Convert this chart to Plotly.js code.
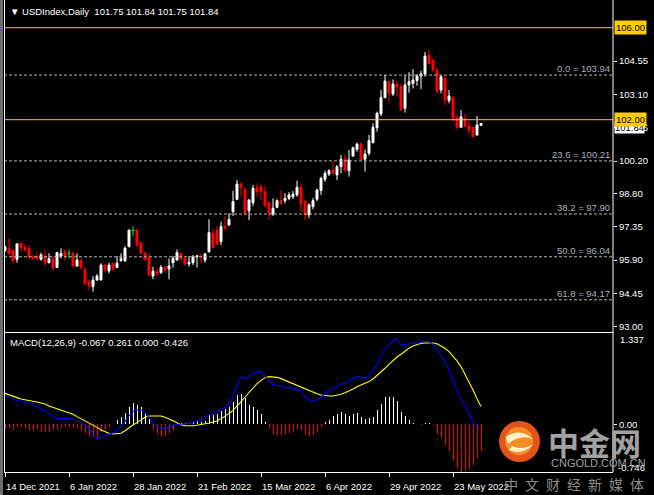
<!DOCTYPE html>
<html><head><meta charset="utf-8">
<script src="https://cdn.plot.ly/plotly-3.0.1.min.js"></script>
<style>html,body{margin:0;padding:0;background:#000;overflow:hidden}#chart{width:654px;height:495px}</style>
</head><body><div id="chart"></div>
<script>
// ---------- data ----------
const tickBars = [0, 16, 32, 48, 64, 80, 96, 112];
const tickLabels = ['14 Dec 2021','6 Jan 2022','28 Jan 2022','21 Feb 2022','15 Mar 2022','6 Apr 2022','29 Apr 2022','23 May 2022'];

const openP = [96.31,96.41,96.34,95.93,96.63,96.45,96.41,96.02,96.05,95.93,96.07,95.78,95.96,95.57,96.07,96.29,96.19,96.19,95.64,95.87,
95.49,94.96,94.74,95.03,95.03,95.68,95.42,95.76,95.57,95.87,95.87,96.48,97.18,97.20,96.65,96.19,96.02,95.20,95.39,95.35,
95.61,95.51,95.78,95.90,96.19,95.97,95.73,95.78,96.04,96.07,95.90,96.26,97.06,97.20,96.70,97.35,97.42,98.00,98.54,99.20,
98.97,98.04,98.39,99.06,99.09,98.86,98.41,97.90,98.19,98.48,98.48,98.58,98.65,98.73,99.06,98.44,97.86,98.22,98.54,98.92,
99.41,99.64,99.81,99.60,99.96,100.28,99.78,100.42,100.71,100.94,100.28,100.54,101.00,101.65,102.25,102.96,103.65,103.12,103.55,103.44,
102.49,103.51,103.58,103.70,103.90,103.99,104.81,104.59,104.16,103.29,103.80,102.83,102.97,102.10,101.67,102.06,101.73,101.67,101.33,101.75];
const highP = [96.51,96.84,96.36,96.63,96.65,96.60,96.55,96.12,96.19,96.22,96.34,96.19,96.07,96.26,96.41,96.34,96.36,96.26,96.19,95.97,
95.61,95.03,95.20,95.29,95.76,95.71,95.78,95.78,96.07,96.19,96.51,97.23,97.38,97.23,96.70,96.26,96.19,95.61,95.58,95.68,
95.61,95.97,96.07,96.36,96.22,96.02,96.07,96.12,96.12,96.19,96.22,97.67,97.23,97.38,97.57,97.81,97.93,98.91,99.38,99.29,
99.02,98.54,99.16,99.23,99.20,99.09,98.41,98.58,98.54,98.94,98.80,98.85,98.90,99.35,99.23,98.50,98.36,98.60,99.00,99.52,
99.78,99.85,100.18,100.03,100.47,100.47,100.68,100.83,101.00,101.04,100.71,101.34,101.84,102.35,103.29,103.94,103.70,103.75,103.67,103.58,
103.94,104.06,104.20,103.99,104.12,104.94,105.03,104.67,104.23,103.94,103.90,103.29,103.00,102.25,102.42,102.25,101.96,101.67,102.16,101.84];
const lowP = [96.26,96.12,95.76,95.78,96.26,96.26,95.93,95.90,95.87,95.87,95.64,95.76,95.52,95.55,95.97,95.87,95.97,95.64,95.61,95.49,
94.81,94.57,94.52,94.99,95.03,95.39,95.32,95.44,95.57,95.83,95.81,96.45,96.94,96.45,96.16,95.87,95.20,95.06,95.20,95.29,
95.35,95.06,95.57,95.87,95.87,95.64,95.61,95.68,95.57,95.76,95.78,96.22,96.41,96.55,96.55,97.20,97.38,97.81,98.51,98.65,
97.86,97.64,98.25,98.65,98.51,98.22,97.64,97.81,98.15,98.29,98.36,98.50,98.55,98.65,98.00,97.64,97.71,98.10,98.45,98.73,
99.30,99.55,99.64,99.38,99.67,99.74,99.52,100.39,100.61,100.25,99.74,100.44,100.97,101.48,102.16,102.93,102.74,103.03,103.00,102.42,
102.31,103.17,103.36,103.48,103.33,103.87,104.42,104.09,103.15,103.15,102.64,102.71,101.96,101.58,101.67,101.70,101.38,101.23,101.33,101.75];
const closeP = [96.48,96.19,95.87,96.60,96.44,96.34,96.02,95.96,95.97,96.12,95.76,95.96,95.52,96.22,96.19,96.07,96.19,95.64,95.90,95.57,
94.89,94.77,95.03,95.20,95.68,95.47,95.68,95.49,95.76,95.96,96.41,97.20,97.18,96.55,96.19,95.93,95.25,95.42,95.29,95.58,
95.47,95.64,95.97,96.22,95.93,95.73,95.80,96.02,96.07,96.02,96.16,97.09,96.44,96.60,97.35,97.29,97.67,98.44,99.20,99.06,
97.93,98.51,99.02,98.87,98.87,98.25,97.93,98.15,98.48,98.36,98.58,98.73,98.76,99.06,98.36,97.86,98.29,98.48,98.94,99.45,
99.67,99.78,99.67,99.96,100.28,99.81,100.25,100.78,100.94,100.25,100.51,101.09,101.67,102.28,102.97,103.68,103.15,103.55,103.41,102.42,
103.51,103.65,103.72,103.90,103.99,104.77,104.42,104.16,103.22,103.87,102.86,103.03,101.99,101.67,102.13,101.70,101.55,101.26,101.77,101.84];

const macdMain = [0.459,0.433,0.391,0.370,0.365,0.355,0.339,0.302,0.276,0.250,0.214,0.172,0.120,0.093,0.093,0.093,0.093,0.078,0.057,0.026,
-0.011,-0.063,-0.141,-0.220,-0.204,-0.183,-0.152,-0.131,-0.089,-0.037,0.041,0.130,0.198,0.224,0.224,0.182,0.109,0.026,-0.027,-0.053,
-0.063,-0.037,-0.011,0.000,0.000,0.005,0.015,0.030,0.045,0.068,0.120,0.146,0.157,0.188,0.224,0.277,0.329,0.433,0.616,0.747,
0.721,0.731,0.799,0.825,0.825,0.763,0.679,0.627,0.606,0.601,0.590,0.575,0.564,0.548,0.512,0.433,0.381,0.355,0.381,0.418,
0.486,0.527,0.564,0.590,0.627,0.642,0.669,0.721,0.747,0.736,0.721,0.763,0.851,0.940,1.060,1.181,1.254,1.320,1.337,1.233,
1.254,1.264,1.269,1.269,1.285,1.306,1.296,1.254,1.165,1.087,0.972,0.851,0.695,0.522,0.381,0.303,0.172,0.042,-0.037,-0.067];
const macdSignal = [0.485,0.459,0.433,0.418,0.397,0.381,0.370,0.360,0.350,0.334,0.318,0.287,0.266,0.245,0.224,0.203,0.182,0.156,0.120,0.089,
0.057,0.026,-0.011,-0.048,-0.089,-0.115,-0.141,-0.152,-0.152,-0.141,-0.100,-0.053,-0.011,0.026,0.067,0.109,0.130,0.130,0.130,0.130,
0.109,0.089,0.057,0.026,-0.005,-0.021,-0.027,-0.022,-0.015,-0.005,0.005,0.021,0.037,0.052,0.089,0.125,0.167,0.219,0.282,0.355,
0.428,0.501,0.575,0.637,0.689,0.731,0.747,0.747,0.736,0.716,0.689,0.663,0.637,0.611,0.585,0.559,0.533,0.507,0.480,0.460,
0.449,0.444,0.444,0.454,0.470,0.496,0.522,0.554,0.590,0.616,0.637,0.669,0.710,0.763,0.815,0.878,0.940,1.003,1.055,1.097,
1.149,1.191,1.228,1.254,1.269,1.275,1.280,1.275,1.264,1.233,1.191,1.139,1.071,0.993,0.904,0.784,0.669,0.538,0.400,0.280];
const macdHist = [-0.089,-0.063,-0.089,-0.048,-0.037,-0.053,-0.089,-0.100,-0.079,-0.115,-0.115,-0.115,-0.089,-0.089,-0.063,-0.037,-0.037,-0.053,-0.079,-0.100,
-0.141,-0.183,-0.204,-0.220,-0.115,-0.089,-0.037,0.010,0.067,0.109,0.182,0.276,0.339,0.302,0.266,0.182,0.078,-0.089,-0.152,-0.193,
-0.183,-0.141,-0.089,0.026,0.026,0.015,0.026,0.031,0.052,0.042,0.057,0.146,0.146,0.157,0.209,0.240,0.277,0.355,0.460,0.470,
0.418,0.303,0.277,0.224,0.157,0.042,-0.063,-0.157,-0.167,-0.167,-0.157,-0.141,-0.115,-0.073,-0.089,-0.167,-0.178,-0.167,-0.115,-0.037,
0.031,0.068,0.136,0.157,0.188,0.157,0.136,0.157,0.172,0.120,0.084,0.094,0.120,0.224,0.313,0.433,0.433,0.433,0.366,0.198,
0.136,0.068,0.016,0.000,-0.010,0.016,0.016,-0.010,-0.157,-0.219,-0.324,-0.418,-0.575,-0.680,-0.746,-0.730,-0.700,-0.640,-0.533,-0.426];

const hLevels = [106.00, 102.00];
const fibLevels = [103.94, 100.21, 97.90, 96.04, 94.17];
const fibNames = ['0.0', '23.6', '38.2', '50.0', '61.8'];
const priceTicks = [93.00, 94.45, 95.90, 97.35, 98.80, 100.20, 101.65, 103.10, 104.55];
const currentPrice = 101.84;
const macdMax = 1.337, macdMin = -0.746;
const headerText = '\u25BC\u00A0USDIndex,Daily\u00A0\u00A0101.75 101.84 101.75 101.84';
const macdText = 'MACD(12,26,9) -0.067 0.261 0.000 -0.426';

// ---------- geometry helpers ----------
const W = 654, H = 495, PL = 4, PR = 613, PT = 0, PB = 472;
const fx = px => (px - PL) / (PR - PL);
const fy = py => (PB - py) / (PB - PT);
const FONT = '"Liberation Sans", Arial, sans-serif';
const FS = 9.5;

const bars = openP.map((_, i) => i);
const isDoji = bars.map(i => openP[i] === closeP[i]);
const pick = (arr) => arr.map((v, i) => isDoji[i] ? null : v);

// doji drawn as green crosses
const djx = [], djy = [];
bars.forEach(i => {
  if (isDoji[i]) {
    djx.push(i, i, null, i - 0.4, i + 0.4, null);
    djy.push(lowP[i], highP[i], null, openP[i], openP[i], null);
  }
});

const traces = [
  {
    type: 'candlestick', x: bars, open: pick(openP), high: pick(highP), low: pick(lowP), close: pick(closeP),
    xaxis: 'x', yaxis: 'y', hoverinfo: 'skip', whiskerwidth: 0,
    increasing: {line: {color: '#ffffff', width: 1}, fillcolor: '#ffffff'},
    decreasing: {line: {color: '#ff0000', width: 1}, fillcolor: '#ff0000'}
  },
  {
    type: 'scatter', mode: 'lines', x: djx, y: djy, xaxis: 'x', yaxis: 'y',
    line: {color: '#00ff00', width: 1}, hoverinfo: 'skip', connectgaps: false
  },
  {
    type: 'bar', x: bars, y: macdHist, xaxis: 'x', yaxis: 'y2', width: 0.25,
    marker: {color: macdHist.map(v => v >= 0 ? '#ffffff' : '#ff0000'), line: {width: 0}}, hoverinfo: 'skip'
  },
  {
    type: 'scatter', mode: 'lines', x: bars, y: macdSignal, xaxis: 'x', yaxis: 'y2',
    line: {color: '#ffff00', width: 1.1}, hoverinfo: 'skip'
  },
  {
    type: 'scatter', mode: 'lines', x: bars, y: macdMain, xaxis: 'x', yaxis: 'y2',
    line: {color: '#0000ff', width: 1.1}, hoverinfo: 'skip'
  }
];

// main price range from pixel geometry: 106 at y=27.7, 23 px per unit
const pxPerUnit = 23.0, y106 = 27.7;
const mainTop = 106 + (y106 - PT) / pxPerUnit;
const mainBot = 106 - (332 - y106) / pxPerUnit;
const mPx = 63.8, mZero = 424.3;
const macdTop = (mZero - 333) / mPx;
const macdBot = (mZero - PB) / mPx;

const shapes = [];
hLevels.forEach(v => shapes.push({type: 'line', xref: 'paper', yref: 'y', x0: 0, x1: 1, y0: v, y1: v,
  line: {color: '#ffcc00', width: 1}}));
fibLevels.forEach(v => shapes.push({type: 'line', xref: 'paper', yref: 'y', x0: 0, x1: 1, y0: v, y1: v,
  line: {color: '#b4b4b4', width: 1, dash: '3px,2px'}}));
// frame
shapes.push({type: 'rect', xref: 'paper', yref: 'paper', x0: fx(0), x1: fx(3), y0: fy(H), y1: fy(0), line: {width: 0}, fillcolor: '#6e6e6e', layer: 'above'});
shapes.push({type: 'line', xref: 'paper', yref: 'paper', x0: fx(4.5), x1: fx(4.5), y0: fy(PB), y1: fy(0), line: {color: '#ffffff', width: 1}});
shapes.push({type: 'line', xref: 'paper', yref: 'paper', x0: fx(PR), x1: fx(PR), y0: fy(PB), y1: fy(0), line: {color: '#ffffff', width: 1}});
shapes.push({type: 'line', xref: 'paper', yref: 'paper', x0: fx(4), x1: fx(PR), y0: fy(332.5), y1: fy(332.5), line: {color: '#ffffff', width: 1}});
// watermark logo
shapes.push({type: 'circle', xref: 'paper', yref: 'paper', x0: fx(499), x1: fx(540), y0: fy(462), y1: fy(421),
  line: {width: 0}, fillcolor: '#e4531a', layer: 'above'});
shapes.push({type: 'circle', xref: 'paper', yref: 'paper', x0: fx(505), x1: fx(533), y0: fy(455), y1: fy(427),
  line: {width: 0}, fillcolor: '#f5962a', layer: 'above', opacity: 0.9});
shapes.push({type: 'path', xref: 'paper', yref: 'paper', layer: 'above',
  path: `M ${fx(506)},${fy(437)} Q ${fx(520)},${fy(427)} ${fx(533)},${fy(439)} Q ${fx(520)},${fy(434)} ${fx(508)},${fy(444)} Z`,
  line: {width: 0}, fillcolor: '#fff1c8'});
shapes.push({type: 'path', xref: 'paper', yref: 'paper', layer: 'above',
  path: `M ${fx(509)},${fy(450)} Q ${fx(522)},${fy(456)} ${fx(534)},${fy(444)} Q ${fx(522)},${fy(451)} ${fx(512)},${fy(446)} Z`,
  line: {width: 0}, fillcolor: '#fff1c8'});

const ann = [];
const txt = (x, y, text, opts = {}) => Object.assign({xref: 'paper', yref: 'paper', x: fx(x), y: fy(y), text: text,
  showarrow: false, xanchor: 'left', yanchor: 'middle', font: {family: FONT, size: FS, color: '#ffffff'}}, opts);

ann.push(txt(8, 11, headerText));
ann.push(txt(8, 342, macdText));
fibLevels.forEach((v, k) => ann.push({xref: 'paper', yref: 'y', x: fx(612), y: v, xanchor: 'right', yanchor: 'bottom',
  text: fibNames[k] + ' = ' + v.toFixed(2), showarrow: false, yshift: -1,
  font: {family: FONT, size: FS, color: '#a9b3bf'}}));
// current price box (partly under the 102 label, as in the reference)
ann.push({xref: 'paper', yref: 'y', x: 1, xshift: 1, y: currentPrice, yshift: -4, xanchor: 'left', yanchor: 'middle', text: currentPrice.toFixed(2),
  showarrow: false, bgcolor: '#ffffff', borderpad: 0, font: {family: FONT, size: FS, color: '#000000'}});
hLevels.forEach(v => ann.push({xref: 'paper', yref: 'y', x: 1, xshift: 1, y: v, xanchor: 'left', yanchor: 'middle',
  text: v.toFixed(2), showarrow: false, bgcolor: '#ffcc00', borderpad: 1, font: {family: FONT, size: FS, color: '#000000'}}));
ann.push({xref: 'paper', yref: 'y2', x: 1, xshift: 5, y: macdMax, xanchor: 'left', yanchor: 'middle', text: macdMax.toFixed(3),
  showarrow: false, font: {family: FONT, size: FS, color: '#ffffff'}});
ann.push(txt(616, 467, macdMin.toFixed(3)));
// watermark
ann.push(txt(546, 441, '<b>中金网</b>', {font: {family: '"Noto Sans CJK SC", sans-serif', size: 31, color: '#a2a2a2'}}));
ann.push(txt(549, 463, 'CNGOLD.COM.CN', {font: {family: FONT, size: 11, color: '#a2a2a2'}}));
ann.push(txt(502, 484, '中\u2002文\u2002财\u2002经\u2002新\u2002媒\u2002体', {font: {family: '"Noto Sans CJK SC", sans-serif', size: 14, color: '#8c8c8c'}}));

const layout = {
  width: W, height: H, paper_bgcolor: '#000000', plot_bgcolor: '#000000',
  margin: {l: PL, r: W - PR, t: PT, b: H - PB, pad: 0},
  showlegend: false, dragmode: false, bargap: 0,
  xaxis: {
    anchor: 'y2', domain: [0, 1], range: [-0.25, 152], rangeslider: {visible: false},
    tickmode: 'array', tickvals: tickBars, ticktext: tickLabels, ticks: 'outside', ticklen: 4, tickcolor: '#ffffff',
    ticklabelposition: 'outside right', ticklabelstandoff: 6, tickfont: {family: FONT, size: FS, color: '#ffffff'},
    showline: true, linecolor: '#ffffff', linewidth: 1, showgrid: false, zeroline: false, fixedrange: true
  },
  yaxis: {
    domain: [fy(332), 1], range: [mainBot, mainTop], side: 'right',
    tickmode: 'array', tickvals: priceTicks, ticktext: priceTicks.map(v => v.toFixed(2)),
    ticks: 'outside', ticklen: 3, tickcolor: '#ffffff', tickfont: {family: FONT, size: FS, color: '#ffffff'},
    showline: false, showgrid: false, zeroline: false, fixedrange: true
  },
  yaxis2: {
    domain: [0, fy(333)], range: [macdBot, macdTop], side: 'right',
    tickmode: 'array', tickvals: [0], ticktext: ['0.00'],
    ticks: 'outside', ticklen: 3, tickcolor: '#ffffff', tickfont: {family: FONT, size: FS, color: '#ffffff'},
    showline: false, showgrid: false, zeroline: false, fixedrange: true
  },
  shapes: shapes, annotations: ann
};

Plotly.newPlot('chart', traces, layout, {displayModeBar: false, staticPlot: true});
</script></body></html>
